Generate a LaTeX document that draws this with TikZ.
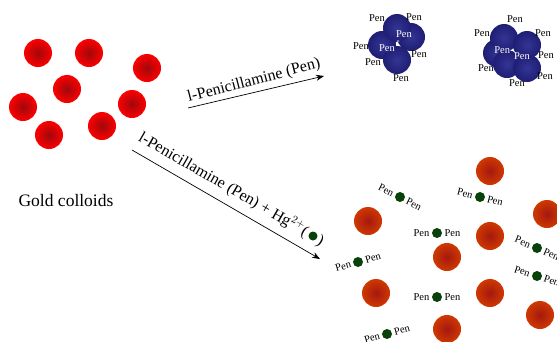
\documentclass[tikz,border=0pt]{standalone}
\usepackage{fontspec}
\setmainfont{Liberation Serif}
\usetikzlibrary{calc,arrows.meta}
\definecolor{goldred}{RGB}{255,0,0}
\definecolor{goldcore}{RGB}{160,8,12}
\definecolor{mixorange}{RGB}{208,58,0}
\definecolor{mixcore}{RGB}{165,24,16}
\definecolor{pennavy}{RGB}{26,26,110}
\definecolor{pencore}{RGB}{52,52,148}
\definecolor{hggreen}{RGB}{8,66,10}
\pgfdeclareradialshading{goldball}{\pgfpoint{0bp}{0bp}}{color(0bp)=(goldcore); color(26bp)=(goldred); color(50bp)=(goldred)}
\pgfdeclareradialshading{mixball}{\pgfpoint{0bp}{0bp}}{color(0bp)=(mixcore); color(26bp)=(mixorange); color(50bp)=(mixorange)}
\pgfdeclareradialshading{penball}{\pgfpoint{0bp}{0bp}}{color(0bp)=(pencore); color(30bp)=(pennavy); color(50bp)=(pennavy)}
\tikzset{
  colloid/.style={circle, minimum size=28pt, inner sep=0pt, shading=goldball},
  mixcolloid/.style={colloid, shading=mixball},
  pencolloid/.style={colloid, shading=penball},
  hgdot/.style={circle, minimum size=10pt, inner sep=0pt, fill=hggreen},
  pentext/.style={font=\fontsize{10.5}{11}\selectfont, inner sep=0pt},
  reaction/.style={line width=0.7pt, -{Stealth[length=8pt,width=6pt]}},
}
\begin{document}
\begin{tikzpicture}[x=1pt,y=-1pt]
  \useasboundingbox (0,0) rectangle (557,341);

  % bare colloids
  \foreach \x/\y [count=\i] in {38/53,89/53,147/68,67/89,23/107,132/104,49/135,102/126}
    \node[colloid] (gold\i) at (\x,\y) {};
  \node[font=\fontsize{17.5}{18}\selectfont] (goldlabel) at (66,201) {Gold colloids};

  % first aggregate
  \foreach \x/\y/\n in {382/45/a,411/37/b,397/60/c,397/28/d}
    \node[pencolloid] (left\n) at (\x,\y) {};
  \foreach \x/\y [count=\i] in {377/18,414/17,361/46,419/54,373/62,401/78}
    \node[pentext] (leftpen\i) at (\x,\y) {Pen};
  \node[pentext,text=white] (leftin1) at (404,34) {Pen};
  \node[pentext,text=white] (leftin2) at (387,48) {Pen};
  \node[pentext,text=white] (leftin3) at (398,43) {\fontsize{6}{6}\selectfont *};

  % second aggregate
  \foreach \x/\y/\n in {497/53/a,504/38/b,507/64/c,527/68/d,527/45/e}
    \node[pencolloid] (right\n) at (\x,\y) {};
  \foreach \x/\y [count=\i] in {515/19,482/33,543/33,546/55,486/68,545/76,517/83}
    \node[pentext] (rightpen\i) at (\x,\y) {Pen};
  \node[pentext,text=white] (rightin1) at (504,50) {Pen-};
  \node[pentext,text=white] (rightin2) at (522,56) {Pen};

  % dispersed colloids
  \foreach \x/\y [count=\i] in {490/171,368/221,547/214,490/236,447/257,376/293,490/293,540/315,447/329}
    \node[mixcolloid] (mix\i) at (\x,\y) {};

  % Hg ions with their two ligands
  \foreach \x/\y/\a [count=\i] in {400/197/-27,480/197/-14,437/233/0,358/262/16,537/248/-23,537/276/-18,437/297/0,387/334/15} {
    \node[hgdot] (hg\i) at (\x,\y) {};
    \node[pentext,rotate=\a] (penl\i) at ($(hg\i)+({-15.5*cos(\a)},{15.5*sin(\a)})$) {Pen};
    \node[pentext,rotate=\a] (penr\i) at ($(hg\i)+({15.5*cos(\a)},{-15.5*sin(\a)})$) {Pen};
  }

  % reaction arrows
  \coordinate (topstart) at (188,108);
  \coordinate (topend) at (324,76);
  \coordinate (lowstart) at (132,150);
  \coordinate (lowend) at (320,259);
  \draw[reaction] (topstart) -- (topend);
  \draw[reaction] (lowstart) -- (lowend);
  \node[font=\fontsize{16}{17}\selectfont, rotate=14.5] (toplabel) at (254,81) {l-Penicillamine (Pen)};
  \node[font=\fontsize{16}{17}\selectfont, rotate=-30, anchor=west, inner sep=0pt] (lowlabel) at (140,136)
    {l-Penicillamine (Pen) + Hg$^{2+}$(\hspace{13pt})};
  \node[hgdot, minimum size=9pt] (hglabel) at (313,236) {};
\end{tikzpicture}
\end{document}
